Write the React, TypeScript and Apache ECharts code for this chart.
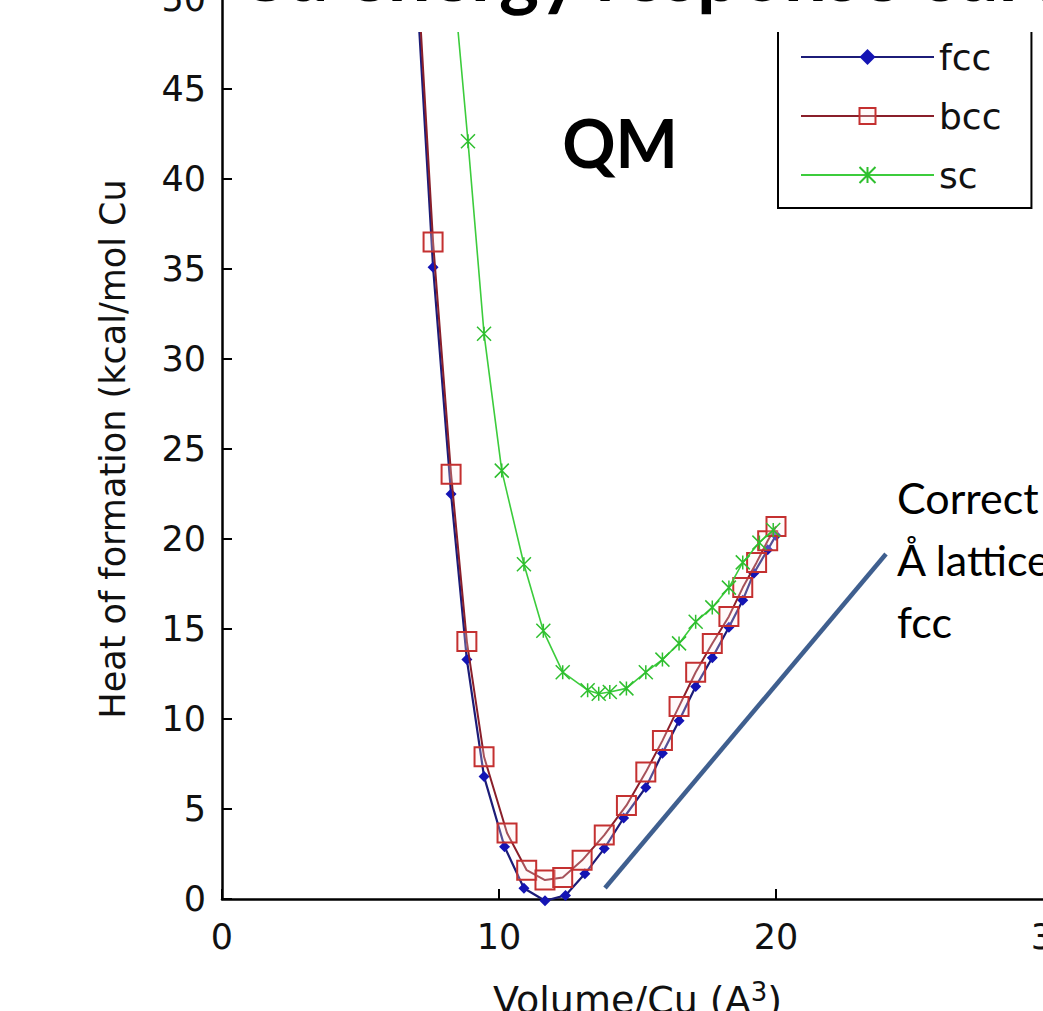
import React, { useEffect, useRef } from "react";
import * as echarts from "echarts";

// Volume per Cu atom (Å^3) and heat of formation (kcal/mol Cu)
const volFcc = [7.0, 7.62, 8.27, 8.84, 9.46, 10.2, 10.9, 11.66, 12.4, 13.1, 13.8, 14.5, 15.3, 15.9, 16.5, 17.1, 17.7, 18.3, 18.8, 19.2, 19.7, 20.0];
const eFcc = [51.5, 35.1, 22.5, 13.3, 6.8, 2.9, 0.6, -0.1, 0.2, 1.4, 2.8, 4.5, 6.2, 8.1, 9.9, 11.8, 13.4, 15.1, 16.6, 18.1, 19.4, 20.2];

const volBcc = [7.0, 7.62, 8.27, 8.84, 9.46, 10.29, 11.0, 11.66, 12.3, 13.0, 13.8, 14.6, 15.3, 15.9, 16.5, 17.1, 17.7, 18.3, 18.8, 19.3, 19.7, 20.0];
const eBcc = [53.0, 36.5, 23.6, 14.3, 7.9, 3.67, 1.6, 1.05, 1.2, 2.15, 3.55, 5.2, 7.05, 8.8, 10.7, 12.6, 14.2, 15.7, 17.3, 18.7, 19.9, 20.7];

const volSc = [8.3, 8.88, 9.46, 10.1, 10.9, 11.6, 12.3, 13.2, 13.6, 14.0, 14.6, 15.3, 15.9, 16.5, 17.1, 17.7, 18.3, 18.8, 19.4, 19.9];
const eSc = [52.0, 42.1, 31.4, 23.8, 18.6, 14.9, 12.6, 11.6, 11.4, 11.5, 11.7, 12.6, 13.3, 14.2, 15.4, 16.2, 17.3, 18.7, 19.8, 20.5];

const seriesNames = ["fcc", "bcc", "sc"];
const titleText = "Cu energy response curves";
const xAxisName = "Volume/Cu (A";
const yAxisName = "Heat of formation (kcal/mol Cu";
const noteLines = ["Correct", "Å lattice", "fcc"];

const pairs = (xs: number[], ys: number[]) => xs.map((x, i) => [x, ys[i]]);

const FONT = "'DejaVu Sans', sans-serif";

export default function App() {
  const ref = useRef<HTMLDivElement>(null);
  useEffect(() => {
    if (!ref.current) return;
    const chart = echarts.init(ref.current, undefined, { renderer: "svg" });
    chart.setOption({
      animation: false,
      backgroundColor: "#ffffff",
      grid: {
        left: 222,
        top: -1,
        width: 831,
        height: 900,
        outerBoundsMode: "none",
        containLabel: false,
      },
      xAxis: {
        type: "value",
        min: 0,
        max: 30,
        interval: 10,
        name: "{a|" + xAxisName + "}{s|3}{a|)}",
        nameLocation: "middle",
        nameGap: 80,
        nameTextStyle: {
          rich: {
            a: { fontFamily: FONT, fontSize: 38, color: "#111", lineHeight: 42 },
            s: { fontFamily: FONT, fontSize: 26, color: "#111", verticalAlign: "top", lineHeight: 42, padding: [0, 0, 15, 0] },
          },
        },
        axisLine: { show: true, onZero: false, lineStyle: { color: "#000", width: 2.5 } },
        axisTick: { show: true, inside: true, length: 10, lineStyle: { color: "#000", width: 2 } },
        axisLabel: { fontFamily: FONT, fontSize: 35, color: "#111", margin: 20 },
        splitLine: { show: false },
      },
      yAxis: {
        type: "value",
        min: 0,
        max: 50,
        interval: 5,
        name: yAxisName,
        nameLocation: "middle",
        nameGap: 92,
        nameTextStyle: { fontFamily: FONT, fontSize: 35, color: "#111" },
        axisLine: { show: true, onZero: false, lineStyle: { color: "#000", width: 2.5 } },
        axisTick: { show: true, inside: true, length: 10, lineStyle: { color: "#000", width: 2 } },
        axisLabel: { fontFamily: FONT, fontSize: 35, color: "#111", margin: 16 },
        splitLine: { show: false },
      },
      legend: {
        data: seriesNames,
        orient: "vertical",
        left: 778,
        top: 27,
        padding: [10, 30, 13, 22],
        itemWidth: 133,
        itemHeight: 20,
        itemGap: 19,
        itemTextGap: 14,
        borderColor: "#000",
        borderWidth: 2,
        backgroundColor: "#fff",
        textStyle: { fontFamily: FONT, fontSize: 36, color: "#111", lineHeight: 40 },
      },
      series: [
        {
          name: seriesNames[0],
          type: "line",
          data: pairs(volFcc, eFcc),
          clip: false,
          symbol: "diamond",
          symbolSize: 11,
          lineStyle: { color: "#1c1c78", width: 2.2 },
          itemStyle: { color: "#1414b4" },
          z: 2,
        },
        {
          name: seriesNames[1],
          type: "line",
          data: pairs(volBcc, eBcc),
          clip: false,
          symbol: "rect",
          symbolSize: 19,
          lineStyle: { color: "#8a1f2a", width: 2 },
          itemStyle: { color: "rgba(255,235,235,0.25)", borderColor: "#c43030", borderWidth: 2 },
          z: 3,
        },
        {
          name: seriesNames[2],
          type: "line",
          data: pairs(volSc, eSc),
          clip: false,
          symbol: "path://M0 0 L10 10 M10 0 L0 10 M5 0 L5 10",
          symbolSize: 14,
          lineStyle: { color: "#3ccc3c", width: 1.6 },
          itemStyle: { color: "rgba(0,0,0,0)", borderColor: "#2fbf2f", borderWidth: 1.5 },
          z: 4,
        },
      ],
      graphic: [
        {
          type: "rect",
          z: 100,
          shape: { x: 226, y: 0, width: 817, height: 32 },
          style: { fill: "#ffffff" },
        },
        {
          type: "text",
          z: 101,
          x: 236,
          y: 9,
          style: {
            text: titleText,
            font: "bold 76px Lato",
            fill: "#000",
            textAlign: "left",
            textVerticalAlign: "bottom",
          },
        },
        {
          type: "text",
          z: 101,
          x: 620,
          y: 142,
          style: {
            text: "QM",
            font: "bold 66px Lato",
            fill: "#000",
            textAlign: "center",
            textVerticalAlign: "middle",
          },
        },
        {
          type: "line",
          z: 101,
          shape: { x1: 605, y1: 888, x2: 886, y2: 554 },
          style: { stroke: "#3f5f8f", lineWidth: 4.5 },
        },
        ...noteLines.map((t, i) => ({
          type: "text",
          z: 101,
          x: 897,
          y: 497 + i * 62,
          style: {
            text: t,
            font: "43px Lato",
            fill: "#000",
            textAlign: "left",
            textVerticalAlign: "middle",
          },
        })),
      ],
    });
    return () => chart.dispose();
  }, []);
  return (
    <div
      ref={ref}
      style={{ position: "fixed", left: 0, top: 0, width: 1043, height: 1011, background: "#fff" }}
    />
  );
}
